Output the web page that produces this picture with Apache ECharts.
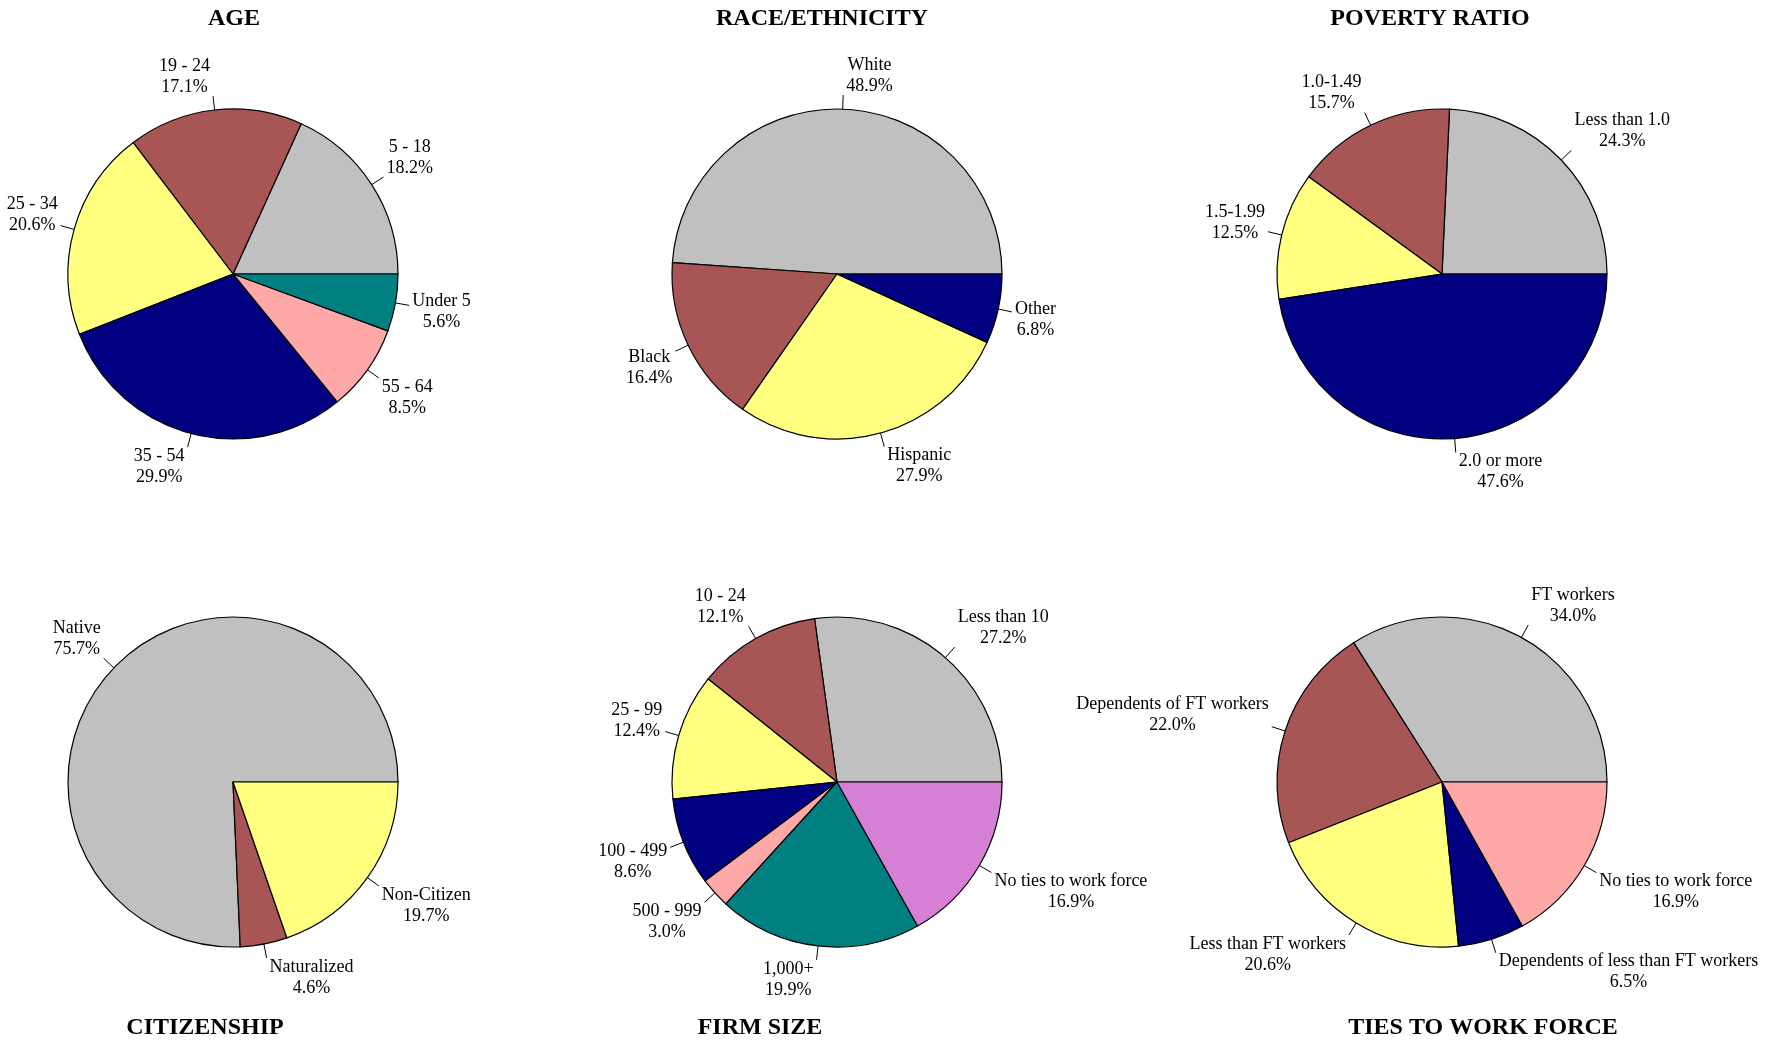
<!DOCTYPE html>
<html>
<head>
<meta charset="utf-8">
<title>Pie charts</title>
<script src="https://cdn.jsdelivr.net/npm/echarts@6/dist/echarts.min.js"></script>
<style>
  html, body { margin: 0; padding: 0; background: #fff; }
  #chart { width: 1786px; height: 1040px; }
</style>
</head>
<body>
<div id="chart"></div>
<script>
// ---- Data ----
const ageNames = ['5 - 18', '19 - 24', '25 - 34', '35 - 54', '55 - 64', 'Under 5'];
const ageValues = [18.2, 17.1, 20.6, 29.9, 8.5, 5.6];

const raceNames = ['White', 'Black', 'Hispanic', 'Other'];
const raceValues = [48.9, 16.4, 27.9, 6.8];

const povertyNames = ['Less than 1.0', '1.0-1.49', '1.5-1.99', '2.0 or more'];
const povertyValues = [24.3, 15.7, 12.5, 47.6];

const citizenNames = ['Native', 'Naturalized', 'Non-Citizen'];
const citizenValues = [75.7, 4.6, 19.7];

const firmNames = ['Less than 10', '10 - 24', '25 - 99', '100 - 499', '500 - 999', '1,000+', 'No ties to work force'];
const firmValues = [27.2, 12.1, 12.4, 8.6, 3.0, 19.9, 16.9];

const tiesNames = ['FT workers', 'Dependents of FT workers', 'Less than FT workers', 'Dependents of less than FT workers', 'No ties to work force'];
const tiesValues = [34.0, 22.0, 20.6, 6.5, 16.9];

const titles = ['AGE', 'RACE/ETHNICITY', 'POVERTY RATIO', 'CITIZENSHIP', 'FIRM SIZE', 'TIES TO WORK FORCE'];

// ---- Styles ----
const GREY = '#C0C0C0', BROWN = '#A85555', YELLOW = '#FFFF80', NAVY = '#000080',
      PINK = '#FFA8A8', TEAL = '#008080', ORCHID = '#D580D5';
const ageColors = [GREY, BROWN, YELLOW, NAVY, PINK, TEAL];
const raceColors = [GREY, BROWN, YELLOW, NAVY];
const povertyColors = [GREY, BROWN, YELLOW, NAVY];
const citizenColors = [GREY, BROWN, YELLOW];
const firmColors = [GREY, BROWN, YELLOW, NAVY, PINK, TEAL, ORCHID];
const tiesColors = [GREY, BROWN, YELLOW, NAVY, PINK];

const SERIF = '"Liberation Serif", "Times New Roman", "DejaVu Serif", serif';
const R = 165;
const GAP = 3;

function placeLabel(p) {
  const pts = p.labelLinePoints;
  if (!pts || pts.length < 2) return {};
  const a = pts[0], b = pts[1];
  let ux = b[0] - a[0], uy = b[1] - a[1];
  const L = Math.hypot(ux, uy) || 1;
  ux /= L; uy /= L;
  const h = p.labelRect.height;
  const right = ux >= 0;
  const t = Math.max(-1, Math.min(1, 2 * uy));
  return {
    x: b[0] + (right ? GAP : -GAP),
    y: b[1] + t * h / 2,
    align: right ? 'left' : 'right',
    verticalAlign: 'middle',
    labelLinePoints: pts
  };
}

function pieSeries(names, values, colors, cx, cy) {
  return {
    type: 'pie',
    center: [cx, cy],
    radius: R,
    startAngle: 0,
    clockwise: false,
    avoidLabelOverlap: false,
    animation: false,
    silent: true,
    data: names.map((n, i) => ({ name: n, value: values[i], itemStyle: { color: colors[i] } })),
    itemStyle: { borderColor: '#000', borderWidth: 1.2 },
    label: {
      show: true,
      position: 'outside',
      distanceToLabelLine: 0,
      formatter: p => '{a|' + p.name + '}\n{a|' + p.value.toFixed(1) + '%}',
      rich: {
        a: { align: 'center', fontFamily: SERIF, fontSize: 18, lineHeight: 21, color: '#000' }
      }
    },
    labelLine: { show: true, length: 14, length2: 0, smooth: false, lineStyle: { color: '#000', width: 1 } },
    emphasis: { disabled: true },
    labelLayout: placeLabel
  };
}

const titleX = [234, 822, 1430, 205, 760, 1483];
const titleY = [7, 7, 7, 1016, 1016, 1016];

const chart = echarts.init(document.getElementById('chart'), null, { renderer: 'canvas' });
chart.setOption({
  backgroundColor: '#fff',
  animation: false,
  title: titles.map((t, i) => ({
    text: t,
    left: titleX[i],
    top: titleY[i],
    textAlign: 'center',
    padding: 0,
    textStyle: { fontFamily: SERIF, fontWeight: 'bold', fontSize: 24, color: '#000' }
  })),
  series: [
    pieSeries(ageNames, ageValues, ageColors, 233, 274),
    pieSeries(raceNames, raceValues, raceColors, 837, 274),
    pieSeries(povertyNames, povertyValues, povertyColors, 1442, 274),
    pieSeries(citizenNames, citizenValues, citizenColors, 233, 782),
    pieSeries(firmNames, firmValues, firmColors, 837, 782),
    pieSeries(tiesNames, tiesValues, tiesColors, 1442, 782)
  ]
});
</script>
</body>
</html>
